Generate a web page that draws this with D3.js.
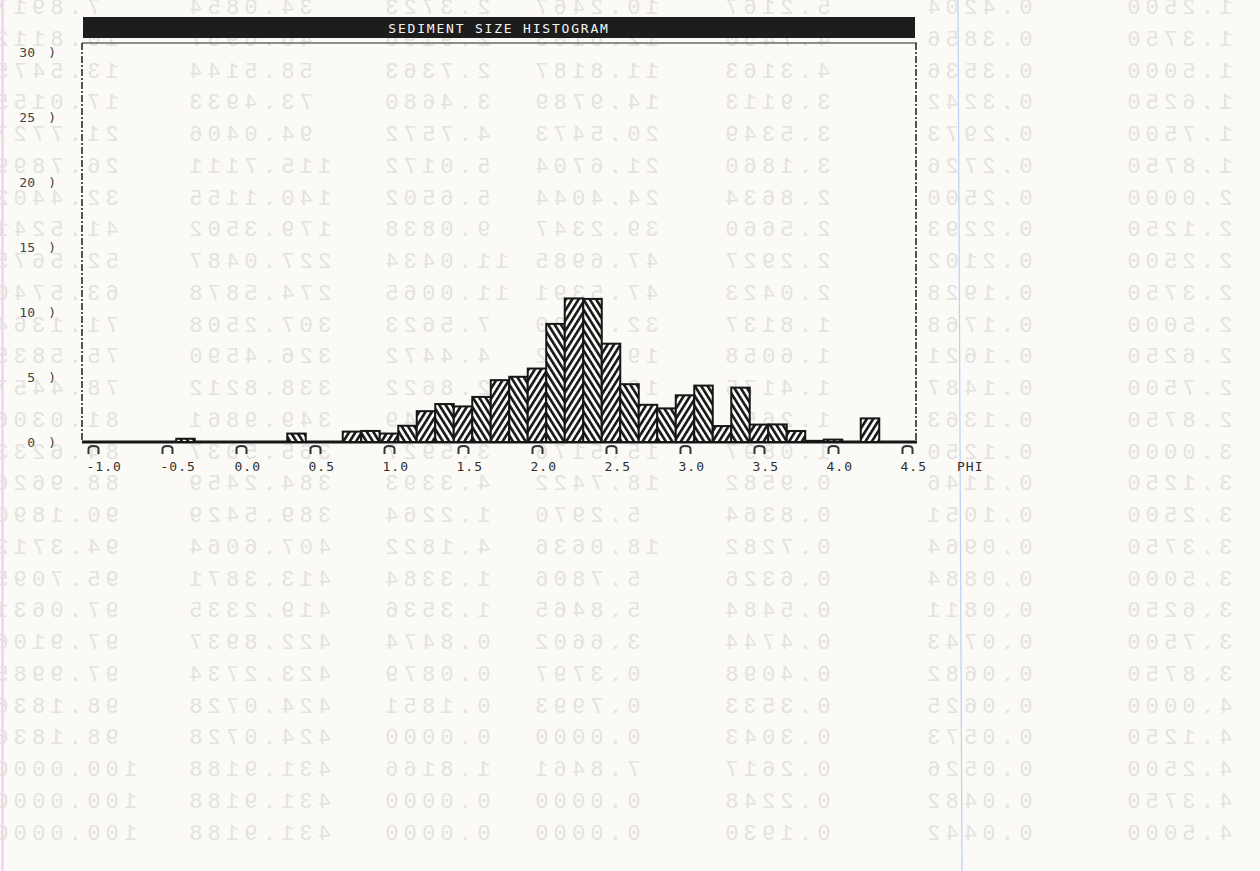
<!DOCTYPE html>
<html>
<head>
<meta charset="utf-8">
<script src="https://cdn.jsdelivr.net/npm/d3@7"></script>
<style>
  html, body { margin: 0; padding: 0; background: #fbfaf7; }
  svg { display: block; }
</style>
</head>
<body>
<div id="chart"></div>
<script>
// histogram bins, 1/8 phi wide, and weight percent in each bin
const phiBins = [-1.0, -0.875, -0.75, -0.625, -0.5, -0.375, -0.25, -0.125,
  0.0, 0.125, 0.25, 0.375, 0.5, 0.625, 0.75, 0.875,
  1.0, 1.125, 1.25, 1.375, 1.5, 1.625, 1.75, 1.875,
  2.0, 2.125, 2.25, 2.375, 2.5, 2.625, 2.75, 2.875,
  3.0, 3.125, 3.25, 3.375, 3.5, 3.625, 3.75, 3.875,
  4.0, 4.125, 4.25, 4.375, 4.5];
const weightPct = [0, 0, 0, 0, 0, 0.25, 0, 0,
  0, 0, 0, 0.65, 0, 0, 0.8, 0.85,
  0.65, 1.25, 2.3723, 2.9196, 2.7363, 3.4680, 4.7572, 5.0172,
  5.6502, 9.0838, 11.0434, 11.0065, 7.5623, 4.4472, 2.8622, 2.5849,
  3.5927, 4.3393, 1.2264, 4.1822, 1.3384, 1.3536, 0.8474, 0.0879,
  0.1851, 0, 1.8166, 0, 0];

const xTicks = [-1.0, -0.5, 0.0, 0.5, 1.0, 1.5, 2.0, 2.5, 3.0, 3.5, 4.0, 4.5];
const yTicks = [0, 5, 10, 15, 20, 25, 30];
const title = 'SEDIMENT SIZE HISTOGRAM';
const xLabel = 'PHI';

// table printed on the back of the sheet, it shows through mirrored
const tPhi = ['1.2500','1.3750','1.5000','1.6250','1.7500','1.8750','2.0000','2.1250','2.2500',
  '2.3750','2.5000','2.6250','2.7500','2.8750','3.0000','3.1250','3.2500','3.3750',
  '3.5000','3.6250','3.7500','3.8750','4.0000','4.1250','4.2500','4.3750','4.5000'];
const tMm = ['0.4204','0.3856','0.3536','0.3242','0.2973','0.2726','0.2500','0.2293','0.2102',
  '0.1928','0.1768','0.1621','0.1487','0.1363','0.1250','0.1146','0.1051','0.0964',
  '0.0884','0.0811','0.0743','0.0682','0.0625','0.0573','0.0526','0.0482','0.0442'];
const tCol3 = ['5.2167','4.7450','4.3163','3.9113','3.5349','3.1860','2.8634','2.5660','2.2927',
  '2.0423','1.8137','1.6058','1.4175','1.2651','1.0897','0.9582','0.8364','0.7282',
  '0.6326','0.5484','0.4744','0.4098','0.3533','0.3043','0.2617','0.2248','0.1930'];
const tWeight = ['10.2467','12.6103','11.8187','14.9789','20.5473','21.6704','24.4044','39.2347','47.6985',
  '47.5391','32.6630','19.2082','12.3622','11.1649','15.5176','18.7422','5.2970','18.0636',
  '5.7806','5.8465','3.6602','0.3797','0.7993','0.0000','7.8461','0.0000','0.0000'];
const tPct = ['2.3723','2.9196','2.7363','3.4680','4.7572','5.0172','5.6502','9.0838','11.0434',
  '11.0065','7.5623','4.4472','2.8622','2.5849','3.5927','4.3393','1.2264','4.1822',
  '1.3384','1.3536','0.8474','0.0879','0.1851','0.0000','1.8166','0.0000','0.0000'];
const tCumWt = ['34.0854','46.6957','58.5144','73.4933','94.0406','115.7111','140.1155','179.3502','227.0487',
  '274.5878','307.2508','326.4590','338.8212','349.9861','365.5037','384.2459','389.5429','407.6064',
  '413.3871','419.2335','422.8937','423.2734','424.0728','424.0728','431.9188','431.9188','431.9188'];
const tCumPct = ['7.8917','10.8112','13.5475','17.0155','21.7727','26.7899','32.4402','41.5241','52.5675',
  '63.5740','71.1364','75.5835','78.4457','81.0306','84.6233','88.9626','90.1890','94.3712',
  '95.7095','97.0631','97.9106','97.9985','98.1836','98.1836','100.0000','100.0000','100.0000'];

const w = 1260;
const h = 871;
const paper = '#fbfaf7';
const ink = '#161616';
const mono = '"DejaVu Sans Mono", monospace';

const svg = d3.select('#chart')
  .append('svg')
  .attr('width', w)
  .attr('height', h);

svg.append('rect').attr('width', w).attr('height', h).attr('fill', paper);

// margin lines of the notebook paper
svg.append('line')
  .attr('x1', 2.5).attr('x2', 2.5).attr('y1', 0).attr('y2', h)
  .attr('stroke', '#f2c9ef').attr('stroke-width', 2);
svg.append('line')
  .attr('x1', 958).attr('x2', 962).attr('y1', 0).attr('y2', h)
  .attr('stroke', '#b9d0f5').attr('stroke-width', 1.2);

// faint mirrored table
const back = svg.append('g')
  .attr('transform', `translate(${w},0) scale(-1,1)`)
  .attr('font-family', '"Liberation Mono", monospace')
  .attr('font-size', 22)
  .attr('letter-spacing', 5.2)
  .attr('fill', '#e4e2de');

const columns = [
  {vals: tPhi, left: 1122},
  {vals: tMm, left: 922},
  {vals: tCol3, left: 720},
  {vals: tWeight, left: 530},
  {vals: tPct, left: 380},
  {vals: tCumWt, left: 184},
  {vals: tCumPct, left: -10}
];
columns.forEach(col => {
  back.selectAll(null)
    .data(col.vals)
    .enter()
    .append('text')
    .attr('x', w - col.left)
    .attr('y', (d, i) => 14 + i * 31.75)
    .attr('text-anchor', 'end')
    .text(d => d);
});

// scales
const xScale = d3.scaleLinear().domain([-1, 4.5]).range([93, 907]);
const yScale = d3.scaleLinear().domain([0, 30]).range([442, 52]);
const half = 0.0625;

// hatch patterns, alternating direction bar to bar
const defs = svg.append('defs');
[['hatchUp', 32], ['hatchDown', -32]].forEach(([id, ang]) => {
  const p = defs.append('pattern')
    .attr('id', id)
    .attr('patternUnits', 'userSpaceOnUse')
    .attr('width', 5.4)
    .attr('height', 10)
    .attr('patternTransform', `rotate(${ang})`);
  p.append('rect').attr('width', 5.4).attr('height', 10).attr('fill', paper);
  p.append('rect').attr('width', 2.6).attr('height', 10).attr('fill', ink);
});

// title bar
svg.append('rect')
  .attr('x', 83).attr('y', 17)
  .attr('width', 832).attr('height', 21)
  .attr('fill', '#1d1d1d');
svg.append('text')
  .attr('x', 499).attr('y', 32.5)
  .attr('text-anchor', 'middle')
  .attr('font-family', mono)
  .attr('font-size', 13)
  .attr('letter-spacing', 1.8)
  .attr('fill', '#f4f4f4')
  .text(title);

// frame
svg.append('line')
  .attr('x1', 82).attr('x2', 917).attr('y1', 43).attr('y2', 43)
  .attr('stroke', '#6a6a6a').attr('stroke-width', 1.6);
[82, 916].forEach(x => {
  svg.append('line')
    .attr('x1', x).attr('x2', x).attr('y1', 43).attr('y2', yScale(0))
    .attr('stroke', '#2a2a2a').attr('stroke-width', 1.6)
    .attr('stroke-dasharray', '7 2 2 2');
});

// bars
const bins = phiBins.map((p, i) => ({phi: p, v: weightPct[i], i: i}));
svg.append('line')
  .attr('x1', 82).attr('x2', 917).attr('y1', yScale(0)).attr('y2', yScale(0))
  .attr('stroke', ink).attr('stroke-width', 3);

svg.selectAll('.bar')
  .data(bins)
  .enter()
  .append('rect')
  .attr('class', 'bar')
  .attr('x', d => xScale(d.phi - half))
  .attr('y', d => yScale(d.v))
  .attr('width', d => xScale(d.phi + half) - xScale(d.phi - half))
  .attr('height', d => yScale(0) - yScale(d.v))
  .attr('fill', d => d.i % 2 === 0 ? 'url(#hatchUp)' : 'url(#hatchDown)')
  .attr('stroke', ink)
  .attr('stroke-width', 2);

// x axis
const xAxis = d3.axisBottom(xScale)
  .tickValues(xTicks)
  .tickFormat(d => d.toFixed(1))
  .tickSize(0)
  .tickPadding(0);
const gx = svg.append('g')
  .attr('transform', `translate(0, ${yScale(0)})`)
  .call(xAxis)
  .attr('font-family', mono)
  .attr('font-size', 13)
  .attr('color', '#2e2e2e');
gx.select('.domain').remove();
gx.selectAll('.tick text')
  .attr('text-anchor', 'start')
  .attr('x', -7)
  .attr('y', 29)
  .attr('dy', 0)
  .attr('letter-spacing', 1);
gx.selectAll('.tick')
  .append('path')
  .attr('d', 'M-5,12 V7 Q-5,4 0,4 Q5,4 5,7 V12')
  .attr('fill', 'none')
  .attr('stroke', '#333')
  .attr('stroke-width', 2);

svg.append('text')
  .attr('x', 957).attr('y', yScale(0) + 29)
  .attr('font-family', mono)
  .attr('font-size', 13)
  .attr('letter-spacing', 1)
  .attr('fill', '#2e2e2e')
  .text(xLabel);

// y axis
const yAxis = d3.axisLeft(yScale)
  .tickValues(yTicks)
  .tickFormat(d => d)
  .tickSize(0)
  .tickPadding(47);
const gy = svg.append('g')
  .attr('transform', 'translate(82,0)')
  .call(yAxis)
  .attr('font-family', mono)
  .attr('font-size', 13)
  .attr('color', '#444');
gy.select('.domain').remove();
gy.selectAll('.tick')
  .append('text')
  .attr('x', -26)
  .attr('dy', '0.32em')
  .attr('fill', 'currentColor')
  .text(')');
</script>
</body>
</html>
